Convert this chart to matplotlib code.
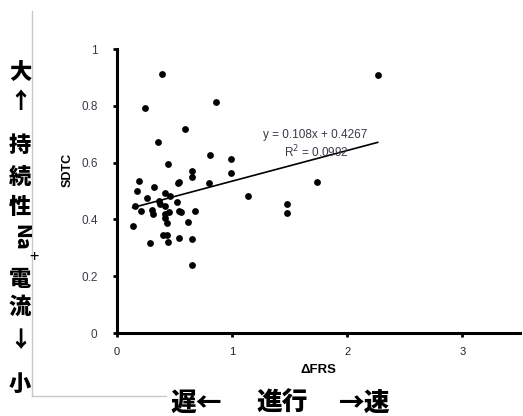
import matplotlib.pyplot as plt
import numpy as np

# data
dfrs = [0.393, 0.240, 0.859, 0.593, 0.358, 0.812, 0.989, 0.440, 0.648, 0.648,
        0.989, 0.800, 0.191, 0.171, 0.321, 0.263, 0.419, 0.462, 0.526, 0.535,
        0.159, 0.208, 0.362, 0.373, 0.416, 0.523, 0.301, 0.310, 0.419, 0.448,
        0.413, 0.436, 0.535, 0.558, 0.677, 0.613, 0.136, 0.402, 0.431, 0.289,
        0.442, 0.535, 0.650, 0.650, 1.142, 1.480, 1.480, 1.737, 2.264]
sdtc = [0.912, 0.792, 0.812, 0.717, 0.671, 0.627, 0.614, 0.594, 0.570, 0.550,
        0.564, 0.529, 0.534, 0.500, 0.515, 0.476, 0.494, 0.482, 0.527, 0.533,
        0.448, 0.428, 0.466, 0.453, 0.448, 0.462, 0.433, 0.418, 0.418, 0.425,
        0.406, 0.388, 0.430, 0.425, 0.430, 0.391, 0.378, 0.345, 0.345, 0.316,
        0.321, 0.334, 0.330, 0.240, 0.481, 0.453, 0.424, 0.533, 0.908]
slope = 0.108
intercept = 0.4267
r2 = 0.0992
xticks = [0, 1, 2, 3]
yticks = [0, 0.2, 0.4, 0.6, 0.8, 1]
ytick_labels = ['0', '0.2', '0.4', '0.6', '0.8', '1']

W, H = 523, 416
JP = ['Noto Sans CJK JP', 'DejaVu Sans']
SANS = ['Liberation Sans', 'DejaVu Sans']


def px(x, y):
	# pixel position -> figure fraction
	return x / W, 1 - y / H


fig = plt.figure(figsize=(W / 100, H / 100), dpi=100)
ax = fig.add_axes([117 / W, 1 - 333 / H, (520 - 117) / W, (333 - 49) / H])

ax.scatter(dfrs, sdtc, s=24, color='black', zorder=3, linewidths=0)
xs = np.array([min(dfrs), max(dfrs)])
ax.plot(xs, slope * xs + intercept, color='black', lw=1.2, zorder=2)

ax.set_xlim(0, 3.5)
ax.set_ylim(0, 1)
ax.set_xticks(xticks)
ax.set_xticklabels([str(t) for t in xticks], family=SANS, fontsize=8, color='#222222')
ax.set_yticks(yticks)
ax.set_yticklabels(ytick_labels, family=SANS, fontsize=8.5, color='#3a3a48')
ax.tick_params(axis='y', direction='out', length=3, width=2, pad=11)
ax.tick_params(axis='x', direction='out', length=3, width=2, pad=7)
for side in ['top', 'right']:
	ax.spines[side].set_visible(False)
for side in ['left', 'bottom']:
	ax.spines[side].set_linewidth(2.2)
ax.spines['left'].set_capstyle('projecting')

ax.set_xlabel('ΔFRS', family=SANS, fontsize=9.5, fontweight='bold', labelpad=5)
fig.text(*px(68, 170), 'SDTC', rotation=90, ha='center', va='center',
	family=SANS, fontsize=9, fontweight='bold')

# regression label
fig.text(*px(315, 135), f'y = {slope}x + {intercept}', ha='center', va='center',
	family=SANS, fontsize=8.5, color='#3a3a48')
fig.text(*px(316, 152), f'R$^2$ = {r2}', ha='center', va='center',
	family=SANS, fontsize=8.5, color='#3a3a48')

# slide frame lines
fig.add_artist(plt.Line2D([32 / W, 32 / W], [1 - 11 / H, 1 - 396 / H], color='#c8c8c8', lw=1))
fig.add_artist(plt.Line2D([32 / W, 166 / W], [1 - 396 / H, 1 - 396 / H], color='#c8c8c8', lw=1))

# vertical japanese annotation
col = [('大', 72), ('↑', 101), ('持', 145), ('続', 177), ('性', 208),
	('電', 279), ('流', 307), ('↓', 341), ('小', 384)]
for ch, y in col:
	fig.text(*px(20, y), ch, ha='center', va='center', family=JP,
		fontsize=16, fontweight='heavy')
fig.text(*px(21, 237), 'Na', rotation=-90, ha='center', va='center',
	family=JP, fontsize=14, fontweight='heavy')
fig.text(*px(34, 258), '+', ha='center', va='center', family=JP, fontsize=12)

# bottom annotation
for s, x in [('遅←', 196), ('進行', 282), ('→速', 365)]:
	fig.text(*px(x, 403), s, ha='center', va='center', family=JP,
		fontsize=18.5, fontweight='heavy')

fig.savefig('out.png', dpi=100)
